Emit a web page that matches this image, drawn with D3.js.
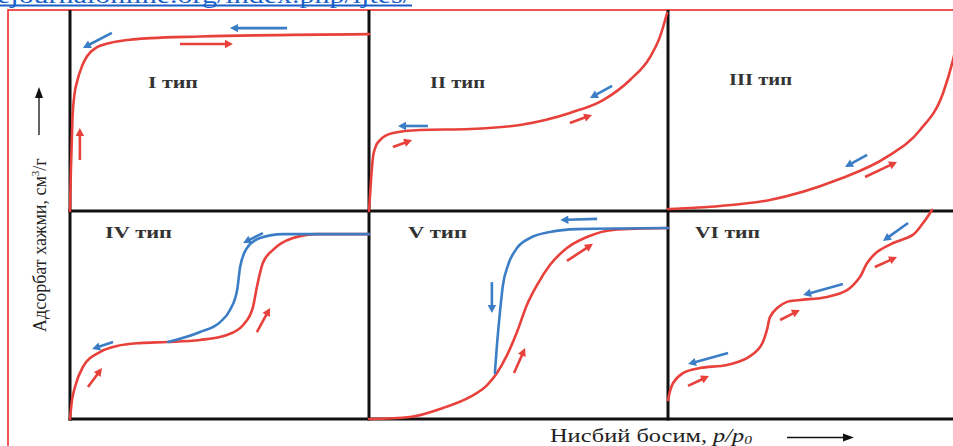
<!DOCTYPE html>
<html><head><meta charset="utf-8">
<script src="https://cdn.jsdelivr.net/npm/d3@7"></script>
<style>html,body{margin:0;padding:0;background:#fff;overflow:hidden}</style>
</head><body>
<svg id="c" width="953" height="446"></svg>
<script>
// ---------- data (relative pressure p/p0, relative adsorbed volume) ----------
const panelLabels = ["I тип", "II тип", "III тип", "IV тип", "V тип", "VI тип"];
const xAxisLabel = "Нисбий босим, ";
const yAxisLabel = "Адсорбат хажми, см";
const headerLink = "ejournalonline.org/index.php/ijtes/";

const type1Ads = [[0,0],[0.003,0.2],[0.008,0.45],[0.015,0.58],[0.023,0.64],[0.04,0.72],[0.057,0.77],[0.085,0.81],[0.134,0.836],[0.2,0.852],[0.27,0.86],[0.435,0.868],[1,0.88]];
const type2Ads = [[0,0],[0.0067,0.154],[0.0134,0.269],[0.023,0.323],[0.037,0.353],[0.08,0.388],[0.171,0.403],[0.338,0.408],[0.505,0.428],[0.672,0.488],[0.783,0.552],[0.873,0.652],[0.94,0.766],[0.973,0.866],[0.997,0.985]];
const type3Ads = [[0,0.01],[0.174,0.025],[0.341,0.055],[0.565,0.154],[0.732,0.269],[0.843,0.403],[0.92,0.587],[0.953,0.751],[0.975,0.9]];
const type4Ads = [[0,0],[0.0067,0.091],[0.0167,0.154],[0.043,0.25],[0.1,0.322],[0.157,0.351],[0.234,0.365],[0.324,0.37],[0.435,0.38],[0.525,0.404],[0.579,0.452],[0.612,0.538],[0.625,0.635],[0.645,0.75],[0.679,0.813],[0.746,0.87],[0.826,0.889],[1,0.889]];
const type4Des = [[0.328,0.37],[0.435,0.418],[0.502,0.466],[0.535,0.524],[0.559,0.62],[0.569,0.731],[0.592,0.822],[0.635,0.87],[0.712,0.889],[1,0.889]];
const type5Ads = [[0,0],[0.137,0.01],[0.247,0.053],[0.338,0.106],[0.395,0.163],[0.428,0.221],[0.462,0.308],[0.495,0.418],[0.528,0.548],[0.562,0.644],[0.605,0.74],[0.662,0.822],[0.729,0.875],[0.816,0.909],[1,0.918]];
const type5Des = [[0.421,0.221],[0.428,0.356],[0.438,0.514],[0.448,0.644],[0.465,0.74],[0.495,0.822],[0.538,0.87],[0.605,0.899],[0.696,0.913],[1,0.918]];
const type6Ads = [[0,0.091],[0.017,0.173],[0.05,0.221],[0.107,0.245],[0.197,0.26],[0.264,0.293],[0.308,0.346],[0.331,0.428],[0.341,0.49],[0.365,0.534],[0.398,0.563],[0.441,0.572],[0.532,0.587],[0.599,0.62],[0.642,0.683],[0.666,0.75],[0.699,0.803],[0.753,0.846],[0.819,0.885],[0.853,0.942],[0.883,1.005]];

// direction arrows: [panel, x0, y0, x1, y1] (tail -> head)
const adsArrows = [
  [0,0.033,0.254,0.033,0.413],[0,0.368,0.831,0.545,0.831],
  [1,0.08,0.318,0.144,0.353],[1,0.672,0.438,0.746,0.478],
  [2,0.659,0.169,0.766,0.244],
  [3,0.06,0.154,0.107,0.245],[3,0.625,0.418,0.669,0.534],
  [4,0.485,0.221,0.522,0.341],[4,0.662,0.76,0.749,0.842],
  [5,0.067,0.159,0.137,0.207],[5,0.375,0.476,0.441,0.524],[5,0.692,0.731,0.766,0.779]
];
const desArrows = [
  [0,0.14,0.886,0.043,0.811],[0,0.726,0.91,0.535,0.91],
  [1,0.197,0.423,0.097,0.423],[1,0.813,0.622,0.739,0.562],
  [2,0.666,0.279,0.592,0.219],
  [3,0.645,0.894,0.579,0.846],[3,0.144,0.37,0.074,0.337],
  [4,0.763,0.962,0.64,0.957],[4,0.411,0.658,0.411,0.51],
  [5,0.803,0.942,0.719,0.856],[5,0.585,0.649,0.452,0.596],[5,0.201,0.317,0.067,0.264]
];

// ---------- layout ----------
const RED = "#e8413c", BLUE = "#3c7ec6";
const colX = [70, 369, 668, 967];
const rowY = [10, 211, 419];
const svg = d3.select("#c");

function scalesFor(i) {
  const c = i % 3, r = Math.floor(i / 3);
  return {
    x: d3.scaleLinear().domain([0, 1]).range([colX[c], colX[c + 1]]),
    y: d3.scaleLinear().domain([0, 1]).range([rowY[r + 1], rowY[r]])
  };
}
const S = d3.range(6).map(scalesFor);

// header link (cropped at top edge, as in the source)
svg.append("text").attr("x", -3).attr("y", 3)
  .attr("font-family", "Liberation Serif").attr("font-size", 24).attr("fill", "#1a5fc8")
  .attr("textLength", 414).attr("lengthAdjust", "spacingAndGlyphs")
  .text(headerLink);
svg.append("line").attr("x1", 0).attr("x2", 412).attr("y1", 5.5).attr("y2", 5.5)
  .attr("stroke", "#1a5fc8").attr("stroke-width", 2);

// red frame
svg.append("path").attr("d", "M8,446 L8,10 L953,10").attr("fill", "none")
  .attr("stroke", "#ee1c1c").attr("stroke-width", 1.5);

// grid lines
const grid = svg.append("g").attr("stroke", "#111").attr("stroke-width", 3);
colX.slice(0, 3).forEach(x => grid.append("line").attr("x1", x).attr("x2", x).attr("y1", rowY[0]).attr("y2", rowY[2] + 1.5));
rowY.slice(1).forEach(y => grid.append("line").attr("x1", colX[0] - 1.5).attr("x2", 953).attr("y1", y).attr("y2", y));

// panel labels
const labelPos = [[148, 88, 50], [430, 88, 55], [729, 85, 63], [105, 238, 67], [408, 238, 59], [695, 238, 65]];
panelLabels.forEach((t, i) => {
  svg.append("text").attr("x", labelPos[i][0]).attr("y", labelPos[i][1])
    .attr("font-family", "Liberation Serif").attr("font-weight", "bold").attr("font-size", 17)
    .attr("fill", "#333").attr("textLength", labelPos[i][2]).attr("lengthAdjust", "spacingAndGlyphs")
    .text(t);
});

// curves
const curves = [
  [0, type1Ads, RED, d3.curveMonotoneX], [1, type2Ads, RED, d3.curveMonotoneX], [2, type3Ads, RED, d3.curveMonotoneX],
  [3, type4Ads, RED, d3.curveMonotoneX], [3, type4Des, BLUE, d3.curveMonotoneX],
  [4, type5Ads, RED, d3.curveMonotoneX], [4, type5Des, BLUE, d3.curveMonotoneX],
  [5, type6Ads, RED, d3.curveCatmullRom.alpha(0.5)]
];
curves.forEach(([p, data, col, cv]) => {
  const line = d3.line().x(d => S[p].x(d[0])).y(d => S[p].y(d[1])).curve(cv);
  svg.append("path").attr("d", line(data)).attr("fill", "none")
    .attr("stroke", col).attr("stroke-width", 2.6).attr("stroke-linecap", "round");
});

// arrows
function drawArrow(a, col) {
  const [p, x0, y0, x1, y1] = a;
  const X0 = S[p].x(x0), Y0 = S[p].y(y0), X1 = S[p].x(x1), Y1 = S[p].y(y1);
  const dx = X1 - X0, dy = Y1 - Y0, L = Math.hypot(dx, dy);
  const ux = dx / L, uy = dy / L, hl = 8, hw = 4.2;
  const bx = X1 - ux * hl, by = Y1 - uy * hl;
  svg.append("line").attr("x1", X0).attr("y1", Y0).attr("x2", bx + ux * 1).attr("y2", by + uy * 1)
    .attr("stroke", col).attr("stroke-width", 2.6);
  svg.append("path").attr("d", `M${X1},${Y1} L${bx - uy * hw},${by + ux * hw} L${bx + uy * hw},${by - ux * hw} Z`)
    .attr("fill", col);
}
adsArrows.forEach(a => drawArrow(a, RED));
desArrows.forEach(a => drawArrow(a, BLUE));

// axis titles
const xl = svg.append("text").attr("x", 550).attr("y", 441.5)
  .attr("font-family", "Liberation Serif").attr("font-size", 19).attr("fill", "#222")
  .attr("textLength", 202).attr("lengthAdjust", "spacingAndGlyphs");
xl.append("tspan").text(xAxisLabel);
xl.append("tspan").attr("font-style", "italic").text("p/p");
xl.append("tspan").attr("font-style", "italic").attr("font-size", 12).attr("dy", 2).text("0");
svg.append("line").attr("x1", 787).attr("x2", 845).attr("y1", 437.5).attr("y2", 437.5)
  .attr("stroke", "#111").attr("stroke-width", 1.3);
svg.append("path").attr("d", "M854,437.5 L843,433.5 L843,441.5 Z").attr("fill", "#111");

const yl = svg.append("text").attr("transform", "translate(46,332) rotate(-90)")
  .attr("font-family", "Liberation Serif").attr("font-size", 18).attr("fill", "#222");
yl.append("tspan").text(yAxisLabel);
yl.append("tspan").attr("font-size", 11).attr("dy", -7).text("3");
yl.append("tspan").attr("dy", 7).text("/г");
svg.append("line").attr("x1", 39).attr("x2", 39).attr("y1", 135).attr("y2", 96)
  .attr("stroke", "#111").attr("stroke-width", 1.3);
svg.append("path").attr("d", "M39,87 L35,98 L43,98 Z").attr("fill", "#111");
</script>
</body></html>
